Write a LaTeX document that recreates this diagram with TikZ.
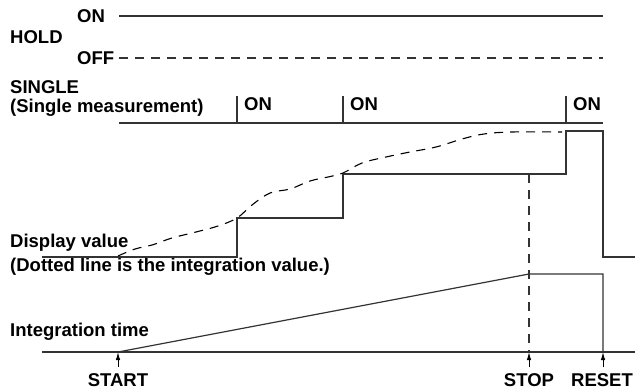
\documentclass[tikz,border=0pt]{standalone}
\usepackage{fontspec}
\setmainfont{Liberation Sans}
\usetikzlibrary{arrows.meta}
\begin{document}
\begin{tikzpicture}[x=1pt,y=-1pt,
  lbl/.style={anchor=west, inner sep=0pt, font=\bfseries\fontsize{18.5}{19}\selectfont},
  tag/.style={inner sep=0pt, font=\bfseries\fontsize{18.5}{19}\selectfont},
  sig/.style={line width=1.2pt, black!80},
  dsh/.style={dash pattern=on 9pt off 7pt},
  upar/.style={-{Latex[length=8pt,width=4.5pt]}, line width=1pt, shorten <=6pt}]
  \useasboundingbox (0,0) rectangle (635,391);

  % HOLD line
  \node[lbl] (hold) at (10,37) {HOLD};
  \node[lbl] (on) at (77,16) {ON};
  \node[lbl] (off) at (77,58) {OFF};
  \draw[sig] (119,16) -- (603,16);
  \draw[sig, dsh] (119,58) -- (603,58);

  % SINGLE line with its ON ticks
  \node[lbl, align=left] (single) at (10,98) {SINGLE\\(Single measurement)};
  \draw[sig] (119,123) -- (603,123);
  \foreach \x/\n in {237/a,343/b,566/c} {
    \draw[sig] (\x,96) -- (\x,123);
    \node[lbl] (on\n) at (\x+7,104) {ON};
  }

  % Display value steps
  \node[lbl] (disp) at (10,243) {Display value};
  \node[lbl] (dotted) at (10,267) {(Dotted line is the integration value.)};
  \draw[sig] (42,257) -- (237,257) -- (237,218) -- (343,218) -- (343,174)
    -- (566,174) -- (566,131) -- (603,131) -- (603,257) -- (635,257);
  % integration value
  \draw[line width=1.1pt, dsh] plot[smooth, tension=0.6] coordinates {
    (118,256) (135,249) (152,245) (172,238) (196,232) (218,226) (237,218)
    (252,205) (270,193) (290,189) (310,181) (328,177) (343,173) (362,163)
    (386,157) (410,152) (436,147) (462,139) (484,134) (512,132) (562,132)};

  % Integration time
  \node[lbl] (integ) at (10,332) {Integration time};
  \coordinate (st) at (118,352);
  \coordinate (sp) at (529,352);
  \coordinate (rs) at (603,352);
  \draw[sig] (42,352) -- (635,352);
  \draw[sig] (st) -- (529,274) -- (603,274) -- (rs);
  \draw[sig, dsh] (529,174) -- (sp);

  % START / STOP / RESET marks
  \node[tag] (start) at (118,380) {START};
  \node[tag] (stop) at (529,380) {STOP};
  \node[tag] (reset) at (602,380) {RESET};
  \draw[upar] (start.north) -- (st);
  \draw[upar] (stop.north) -- (sp);
  \draw[upar] (reset.north -| rs) -- (rs);
\end{tikzpicture}
\end{document}
